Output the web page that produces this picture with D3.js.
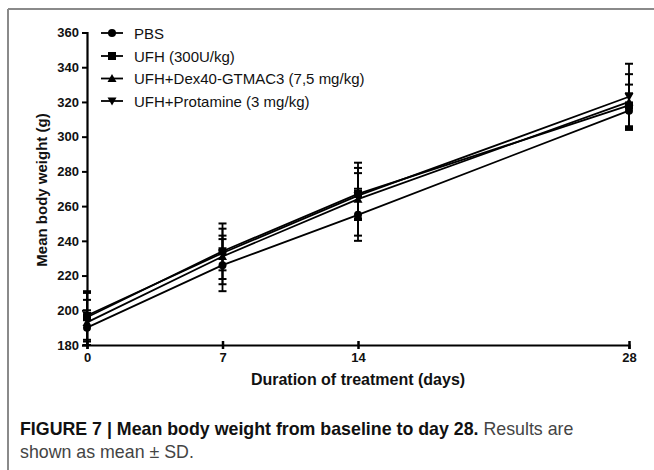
<!DOCTYPE html>
<html lang="en">
<head>
  <meta charset="UTF-8">
  <title>Mean body weight</title>
  <script src="https://d3js.org/d3.v7.min.js"></script>
  <style>
    body {
      margin: 0;
      background: #fff;
      font-family: "Liberation Sans", Arial, sans-serif;
    }
  </style>
</head>
<body>
  <div id="chart"></div>

  <script>
    // days on the x axis
    const days = [0, 7, 14, 28];
    const xTicks = [0, 7, 14, 28];
    const yTicks = [180, 200, 220, 240, 260, 280, 300, 320, 340, 360];

    const seriesNames = ["PBS", "UFH (300U/kg)", "UFH+Dex40-GTMAC3 (7,5 mg/kg)", "UFH+Protamine (3 mg/kg)"];
    const markerTypes = ["circle", "square", "triangle", "down"];

    // mean body weight (g)
    const pbsMean = [190, 226, 255, 315];
    const ufhMean = [196, 234, 267, 318];
    const dexMean = [193, 231, 264, 320];
    const protMean = [197, 233, 266, 323];

    // standard deviations
    const pbsSD = [10, 15, 15, 10];
    const ufhSD = [14, 16, 15, 12];
    const dexSD = [13, 16, 21, 16];
    const protSD = [14, 10, 13, 19];

    const means = [pbsMean, ufhMean, dexMean, protMean];
    const sds = [pbsSD, ufhSD, dexSD, protSD];

    const width = 654, height = 470;
    const svg = d3.select("#chart").append("svg")
      .attr("width", width)
      .attr("height", height);

    // grey frame of the figure panel
    svg.append("line").attr("x1", 8).attr("x2", 8).attr("y1", 9).attr("y2", height)
      .attr("stroke", "#8a8a8a").attr("stroke-width", 2);
    svg.append("line").attr("x1", 8).attr("x2", width).attr("y1", 9).attr("y2", 9)
      .attr("stroke", "#8a8a8a").attr("stroke-width", 2);

    const x = d3.scaleLinear().domain([0, 28]).range([87, 629]);
    const y = d3.scaleLinear().domain([180, 360]).range([345, 32.5]);

    // y axis
    const yAxis = svg.append("g")
      .attr("transform", "translate(87,0)")
      .call(d3.axisLeft(y).tickValues(yTicks).tickSize(5).tickPadding(3));
    yAxis.select(".domain").attr("stroke-width", 2.2);
    yAxis.selectAll(".tick line").attr("stroke-width", 2);
    yAxis.selectAll(".tick text")
      .style("font-size", "13px").style("font-weight", "bold").attr("fill", "#111");

    // x axis
    const xAxis = svg.append("g")
      .attr("transform", "translate(0,345)")
      .call(d3.axisBottom(x).tickValues(xTicks).tickSize(4).tickPadding(4));
    xAxis.select(".domain").attr("stroke-width", 2.2);
    xAxis.selectAll(".tick line").attr("y1", -4).attr("stroke-width", 2.5);
    xAxis.selectAll(".tick text")
      .style("font-size", "13px").style("font-weight", "bold").attr("fill", "#111");

    // axis titles
    svg.append("text")
      .attr("x", 358).attr("y", 385)
      .attr("text-anchor", "middle")
      .style("font-size", "16px").style("font-weight", "bold").attr("fill", "#111")
      .text("Duration of treatment (days)");

    svg.append("text")
      .attr("transform", "translate(47,190) rotate(-90)")
      .attr("text-anchor", "middle")
      .style("font-size", "15px").style("font-weight", "bold").attr("fill", "#111")
      .text("Mean body weight (g)");

    function drawMarker(g, type, cx, cy) {
      if (type === "circle") {
        g.append("circle").attr("cx", cx).attr("cy", cy).attr("r", 4).attr("fill", "#000");
      } else if (type === "square") {
        g.append("rect").attr("x", cx - 4).attr("y", cy - 4).attr("width", 8).attr("height", 8).attr("fill", "#000");
      } else if (type === "triangle") {
        g.append("path").attr("d", `M${cx},${cy - 4.5}L${cx + 4.5},${cy + 3.5}L${cx - 4.5},${cy + 3.5}Z`).attr("fill", "#000");
      } else {
        g.append("path").attr("d", `M${cx},${cy + 4.5}L${cx + 4.5},${cy - 3.5}L${cx - 4.5},${cy - 3.5}Z`).attr("fill", "#000");
      }
    }

    const line = d3.line().x(d => x(d.day)).y(d => y(d.value));
    const plot = svg.append("g");

    means.forEach((m, i) => {
      const pts = days.map((d, j) => ({ day: d, value: m[j], sd: sds[i][j] }));
      const g = plot.append("g");

      // error bars
      pts.forEach(p => {
        const lo = Math.max(180, p.value - p.sd), hi = p.value + p.sd;
        g.append("line").attr("x1", x(p.day)).attr("x2", x(p.day))
          .attr("y1", y(lo)).attr("y2", y(hi))
          .attr("stroke", "#000").attr("stroke-width", 1.8);
        [lo, hi].forEach(v => {
          g.append("line").attr("x1", x(p.day) - 4).attr("x2", x(p.day) + 4)
            .attr("y1", y(v)).attr("y2", y(v))
            .attr("stroke", "#000").attr("stroke-width", 2);
        });
      });

      g.append("path").datum(pts)
        .attr("d", line)
        .attr("fill", "none").attr("stroke", "#000").attr("stroke-width", 1.8);

      pts.forEach(p => drawMarker(g, markerTypes[i], x(p.day), y(p.value)));
    });

    // legend
    const legendY = [33, 56, 78.5, 101];
    seriesNames.forEach((name, i) => {
      const g = svg.append("g");
      g.append("line").attr("x1", 101).attr("x2", 123).attr("y1", legendY[i]).attr("y2", legendY[i])
        .attr("stroke", "#000").attr("stroke-width", 1.8);
      drawMarker(g, markerTypes[i], 112, legendY[i]);
      g.append("text").attr("x", 134).attr("y", legendY[i] + 5.5)
        .style("font-size", "15px").attr("fill", "#111")
        .text(name);
    });

    // caption
    const cap = svg.append("text").attr("x", 20).attr("y", 435)
      .style("font-size", "17.8px").attr("fill", "#444");
    cap.append("tspan").style("font-weight", "bold").attr("fill", "#111")
      .text("FIGURE 7 | Mean body weight from baseline to day 28.");
    cap.append("tspan").text(" Results are");
    svg.append("text").attr("x", 20).attr("y", 458)
      .style("font-size", "17.8px").attr("fill", "#444")
      .text("shown as mean \u00b1 SD.");
  </script>
</body>
</html>
